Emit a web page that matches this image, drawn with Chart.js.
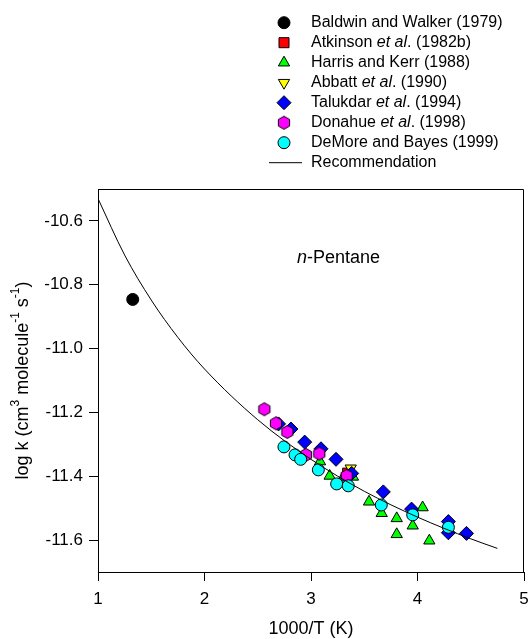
<!DOCTYPE html>
<html>
<head>
<meta charset="utf-8">
<script src="https://cdn.jsdelivr.net/npm/chart.js@4.4.1/dist/chart.umd.min.js"></script>
<style>
  body { margin: 0; background: #fff; }
  #wrap { width: 528px; height: 639px; }
</style>
</head>
<body>
<div id="wrap"><canvas id="myChart" width="528" height="639"></canvas></div>
<script>
// values: x = 1000/T (K), y = log k
const baldwinX = [1.326];
const baldwinY = [-10.846];

const atkinsonX = [3.344];
const atkinsonY = [-11.39];

const harrisX = [3.085, 3.175, 3.30, 3.394, 3.545, 3.664, 3.805, 4.048, 3.955, 3.805, 4.111];
const harrisY = [-11.354, -11.399, -11.405, -11.402, -11.48, -11.516, -11.532, -11.498, -11.555, -11.582, -11.602];

const abbattX = [3.373];
const abbattY = [-11.375];

const talukdarX = [2.695, 2.812, 2.941, 3.094, 3.235, 3.382, 3.679, 3.944, 4.29, 4.29, 4.46];
const talukdarY = [-11.236, -11.252, -11.293, -11.314, -11.347, -11.391, -11.449, -11.503, -11.542, -11.577, -11.579];

const donahueX = [2.562, 2.671, 2.778, 2.953, 3.078, 3.335];
const donahueY = [-11.190, -11.234, -11.261, -11.333, -11.329, -11.399];

const demoreX = [2.746, 2.85, 2.903, 3.069, 3.241, 3.35, 3.66, 3.955, 4.29];
const demoreY = [-11.308, -11.333, -11.347, -11.380, -11.424, -11.430, -11.490, -11.521, -11.560];

const recX = [1, 1.25, 1.5, 1.75, 2, 2.5, 3, 3.5, 4, 4.5, 4.75];
const recY = [-10.530, -10.707, -10.848, -10.965, -11.064, -11.223, -11.347, -11.447, -11.528, -11.596, -11.626];

const xTicks = [1, 2, 3, 4, 5];
const yTicks = [-10.6, -10.8, -11.0, -11.2, -11.4, -11.6];

// legend labels, [text, italic]
const seriesLabels = [
  [["Baldwin and Walker (1979)", false]],
  [["Atkinson ", false], ["et al", true], [". (1982b)", false]],
  [["Harris and Kerr (1988)", false]],
  [["Abbatt ", false], ["et al", true], [". (1990)", false]],
  [["Talukdar ", false], ["et al", true], [". (1994)", false]],
  [["Donahue ", false], ["et al", true], [". (1998)", false]],
  [["DeMore and Bayes (1999)", false]],
  [["Recommendation", false]]
];

const FONT = "'Liberation Sans', Arial, sans-serif";

function pts(xs, ys) {
  return xs.map((x, i) => ({ x: x, y: ys[i] }));
}

function hexPath(g, x, y, r) {
  g.beginPath();
  for (let i = 0; i < 6; i++) {
    const a = Math.PI / 2 + i * Math.PI / 3;
    const px = x + r * Math.cos(a), py = y - r * Math.sin(a);
    if (i === 0) g.moveTo(px, py); else g.lineTo(px, py);
  }
  g.closePath();
}

function hexagon(r, fill) {
  const c = document.createElement('canvas');
  const s = 16;
  c.width = s; c.height = s;
  const g = c.getContext('2d');
  hexPath(g, s / 2, s / 2, r);
  g.fillStyle = fill; g.fill();
  g.lineWidth = 1; g.strokeStyle = '#000'; g.stroke();
  return c;
}
const hexImg = hexagon(6.5, '#ff00ff');

// marker shapes for the hand drawn legend
function drawMarker(ctx, kind, x, y, fill) {
  ctx.save();
  ctx.fillStyle = fill; ctx.strokeStyle = '#000'; ctx.lineWidth = 1;
  ctx.beginPath();
  if (kind === 'circle') {
    ctx.arc(x, y, 6, 0, Math.PI * 2);
  } else if (kind === 'rect') {
    ctx.rect(x - 5, y - 5, 10, 10);
  } else if (kind === 'triangle' || kind === 'down') {
    const s = kind === 'down' ? -1 : 1;
    const r = 6.5;
    ctx.moveTo(x, y - s * r);
    ctx.lineTo(x + r * 0.866, y + s * r * 0.5);
    ctx.lineTo(x - r * 0.866, y + s * r * 0.5);
    ctx.closePath();
  } else if (kind === 'diamond') {
    ctx.moveTo(x, y - 7); ctx.lineTo(x + 7, y); ctx.lineTo(x, y + 7); ctx.lineTo(x - 7, y);
    ctx.closePath();
  } else if (kind === 'hex') {
    ctx.drawImage(hexImg, x - 8, y - 8);
    ctx.restore();
    return;
  } else if (kind === 'line') {
    ctx.moveTo(269, y); ctx.lineTo(302, y);
    ctx.stroke();
    ctx.restore();
    return;
  }
  ctx.fill();
  ctx.stroke();
  ctx.restore();
}

const legendMarkers = [
  ['circle', '#000000'], ['rect', '#ff0000'], ['triangle', '#00ff00'], ['down', '#ffff00'],
  ['diamond', '#0000ff'], ['hex', '#ff00ff'], ['circle', '#00ffff'], ['line', '#000']
];

function drawParts(ctx, parts, x, y, size) {
  let cx = x;
  parts.forEach(p => {
    ctx.font = (p[1] ? 'italic ' : '') + size + 'px ' + FONT;
    ctx.fillText(p[0], cx, y);
    cx += ctx.measureText(p[0]).width;
  });
}

const decor = {
  id: 'decor',
  afterDraw(chart) {
    const ctx = chart.ctx;
    const a = chart.chartArea;
    ctx.save();
    // top and right frame
    ctx.strokeStyle = '#000'; ctx.lineWidth = 1;
    ctx.beginPath();
    ctx.moveTo(Math.round(a.left), Math.round(a.top) + 0.5);
    ctx.lineTo(Math.round(a.right) - 0.5, Math.round(a.top) + 0.5);
    ctx.lineTo(Math.round(a.right) - 0.5, Math.round(a.bottom));
    ctx.stroke();

    ctx.fillStyle = '#000';
    ctx.textBaseline = 'middle';
    ctx.textAlign = 'left';

    // legend
    seriesLabels.forEach((parts, i) => {
      const y = 22.7 + i * 20;
      drawMarker(ctx, legendMarkers[i][0], 284, y, legendMarkers[i][1]);
      ctx.fillStyle = '#000';
      drawParts(ctx, parts, 311, y, 16);
    });

    // compound name
    drawParts(ctx, [['n', true], ['-Pentane', false]], 297, 258, 18);

    // x title
    ctx.font = '18px ' + FONT;
    ctx.textAlign = 'center';
    ctx.fillText('1000/T (K)', (a.left + a.right) / 2, 629);

    // y title with superscripts
    const yParts = [['log k (cm', 0], ['3', 1], [' molecule', 0], ['-1', 1], [' s', 0], ['-1', 1], [')', 0]];
    ctx.textAlign = 'left';
    let total = 0;
    yParts.forEach(p => {
      ctx.font = (p[1] ? 12 : 18) + 'px ' + FONT;
      total += ctx.measureText(p[0]).width;
    });
    ctx.translate(23, (a.top + a.bottom) / 2);
    ctx.rotate(-Math.PI / 2);
    let cx = -total / 2;
    yParts.forEach(p => {
      ctx.font = (p[1] ? 12 : 18) + 'px ' + FONT;
      ctx.fillText(p[0], cx, p[1] ? -7 : 0);
      cx += ctx.measureText(p[0]).width;
    });
    ctx.restore();
  }
};

const axisGrid = { display: true, drawOnChartArea: false, drawTicks: true, tickLength: 9, color: '#000' };

new Chart(document.getElementById('myChart'), {
  type: 'scatter',
  data: {
    datasets: [
      { label: 'Recommendation', data: pts(recX, recY), showLine: true, pointRadius: 0,
        borderColor: '#000', borderWidth: 1, cubicInterpolationMode: 'monotone', order: 0 },
      { label: 'DeMore and Bayes (1999)', data: pts(demoreX, demoreY), pointStyle: 'circle',
        pointRadius: 6, backgroundColor: '#00ffff', order: 1 },
      { label: 'Donahue et al. (1998)', data: pts(donahueX, donahueY), pointStyle: hexImg,
        backgroundColor: '#ff00ff', order: 2 },
      { label: 'Talukdar et al. (1994)', data: pts(talukdarX, talukdarY), pointStyle: 'rectRot',
        pointRadius: 7, backgroundColor: '#0000ff', order: 3 },
      { label: 'Abbatt et al. (1990)', data: pts(abbattX, abbattY), pointStyle: 'triangle',
        rotation: 180, pointRadius: 6.5, backgroundColor: '#ffff00', order: 4 },
      { label: 'Harris and Kerr (1988)', data: pts(harrisX, harrisY), pointStyle: 'triangle',
        pointRadius: 6.5, backgroundColor: '#00ff00', order: 5 },
      { label: 'Atkinson et al. (1982b)', data: pts(atkinsonX, atkinsonY), pointStyle: 'rect',
        pointRadius: 7, backgroundColor: '#ff0000', order: 6 },
      { label: 'Baldwin and Walker (1979)', data: pts(baldwinX, baldwinY), pointStyle: 'circle',
        pointRadius: 6, backgroundColor: '#000000', order: 7 }
    ]
  },
  options: {
    responsive: false,
    animation: false,
    devicePixelRatio: 1,
    layout: { autoPadding: false, padding: { top: 189, right: 4, left: 0, bottom: 0 } },
    elements: { point: { borderColor: '#000', borderWidth: 1 } },
    plugins: { legend: { display: false }, tooltip: { enabled: false } },
    scales: {
      x: {
        type: 'linear', min: 1, max: 5,
        grid: axisGrid,
        border: { display: true, color: '#000', width: 1 },
        afterBuildTicks: s => { s.ticks = xTicks.map(v => ({ value: v })); },
        afterFit: s => { s.height = 67; s.paddingLeft = 0; s.paddingRight = 0; },
        ticks: { color: '#000', padding: 8, maxRotation: 0, font: { family: FONT, size: 17 },
          callback: v => String(v) }
      },
      y: {
        type: 'linear', min: -11.7, max: -10.5,
        grid: axisGrid,
        border: { display: true, color: '#000', width: 1 },
        afterBuildTicks: s => { s.ticks = yTicks.map(v => ({ value: v })); },
        afterFit: s => { s.width = 98; s.paddingTop = 0; s.paddingBottom = 0; },
        ticks: { color: '#000', padding: 6, font: { family: FONT, size: 17 },
          callback: v => v.toFixed(1) }
      }
    }
  },
  plugins: [decor]
});
</script>
</body>
</html>
